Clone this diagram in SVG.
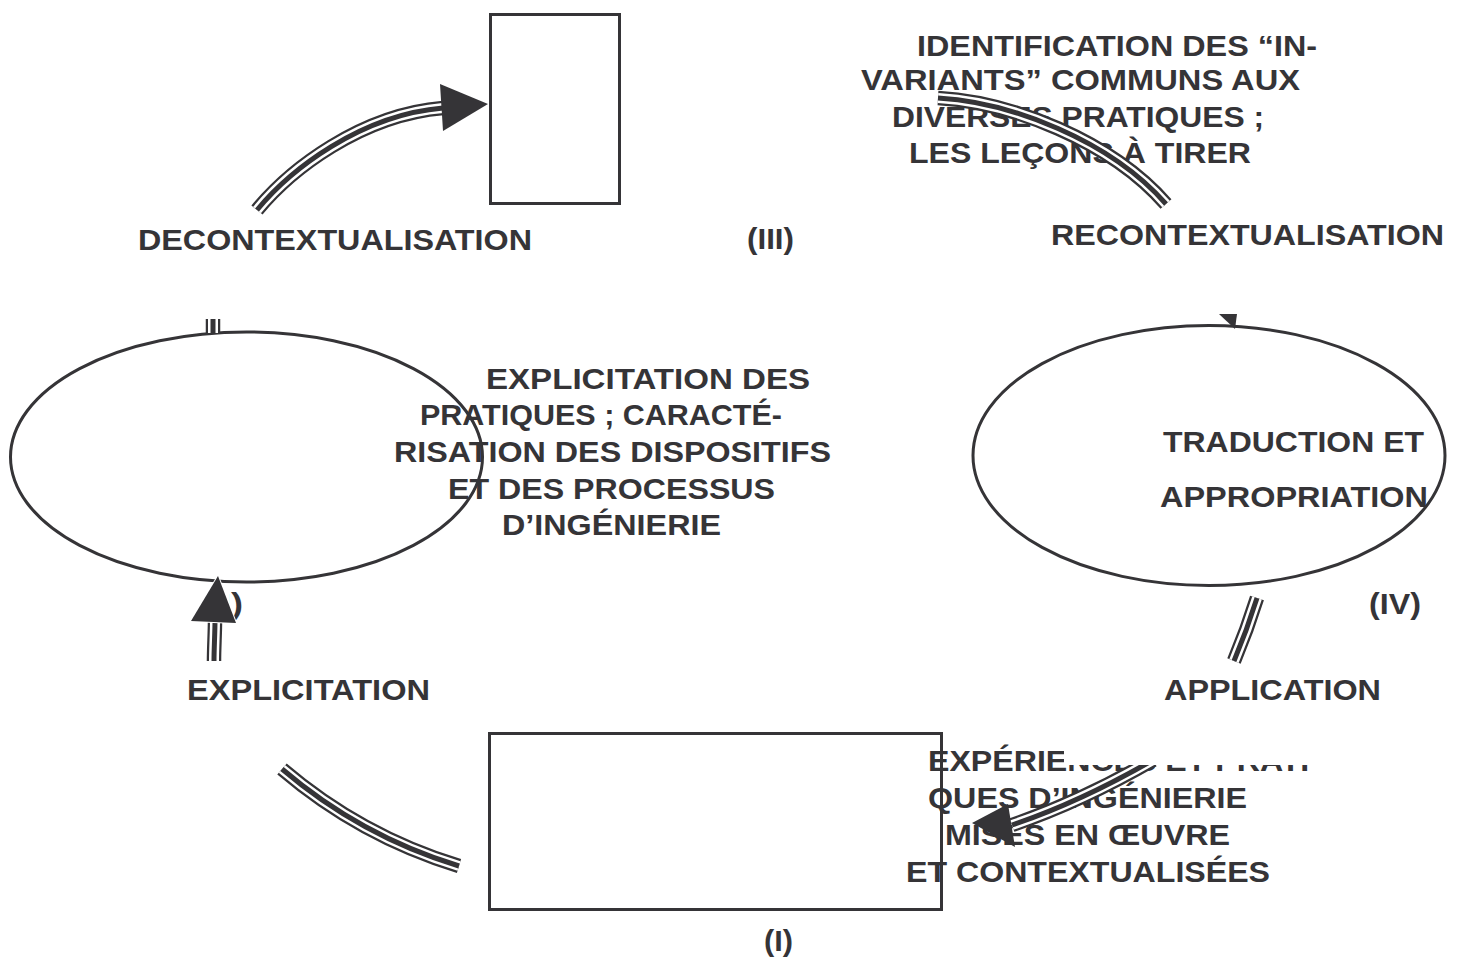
<svg xmlns="http://www.w3.org/2000/svg" xmlns:xlink="http://www.w3.org/1999/xlink" width="1463" height="958" viewBox="0 0 1463 958">
<style>
  .node { fill: #ffffff; stroke: #353437; stroke-width: 3; }
  .t { font-family: "Liberation Sans", Arial, sans-serif; font-weight: bold; font-size: 29.5px; fill: #353437; }
  .b1 { fill: none; stroke: #353437; stroke-width: 14.5; }
  .b2 { fill: none; stroke: #ffffff; stroke-width: 10; }
  .b3 { fill: none; stroke: #353437; stroke-width: 5; }
  .head { fill: #353437; }
</style>
<defs>
  <path id="pa" d="M 257 210 C 290 170 360 115 443 108"/>
  <path id="pb" d="M 938 98 C 1010 102 1110 140 1166 204"/>
  <path id="pc" d="M 213 319 L 213 333"/>
  <path id="pd" d="M 214 661 C 214 648 215 633 215 620"/>
  <path id="pe" d="M 282 769 C 330 810 390 845 459 866"/>
  <path id="pf" d="M 1257 598 Q 1247 630 1234 661"/>
  <path id="pg" d="M 1012 825 Q 1080 802 1153 760"/>
  <clipPath id="clipII"><rect x="229" y="580" width="30" height="50"/></clipPath>
</defs>

<g id="node-III-box"><rect class="node" x="490.5" y="14.5" width="129" height="189"/></g>
<g id="node-I-box"><rect class="node" x="489.5" y="733.5" width="452" height="176"/></g>
<g id="node-II-ellipse"><ellipse class="node" cx="246.5" cy="457" rx="236" ry="125"/></g>
<g id="node-IV-ellipse"><ellipse class="node" cx="1209" cy="455.5" rx="236" ry="130"/></g>

<g id="labels">
  <text class="t" x="138" y="250" textLength="394" lengthAdjust="spacingAndGlyphs">DECONTEXTUALISATION</text>
  <text class="t" x="747" y="249" textLength="47" lengthAdjust="spacingAndGlyphs">(III)</text>
  <text class="t" x="1051" y="245" textLength="393" lengthAdjust="spacingAndGlyphs">RECONTEXTUALISATION</text>
  <text class="t" x="917" y="56" textLength="400" lengthAdjust="spacingAndGlyphs">IDENTIFICATION DES “IN-</text>
  <text class="t" x="861" y="90" textLength="439" lengthAdjust="spacingAndGlyphs">VARIANTS” COMMUNS AUX</text>
  <text class="t" x="892" y="127" textLength="372" lengthAdjust="spacingAndGlyphs">DIVERSES PRATIQUES ;</text>
  <text class="t" x="909" y="163" textLength="342" lengthAdjust="spacingAndGlyphs">LES LEÇONS À TIRER</text>
  <text class="t" x="486" y="389" textLength="324" lengthAdjust="spacingAndGlyphs">EXPLICITATION DES</text>
  <text class="t" x="420" y="425" textLength="362" lengthAdjust="spacingAndGlyphs">PRATIQUES ; CARACTÉ-</text>
  <text class="t" x="394" y="462" textLength="437" lengthAdjust="spacingAndGlyphs">RISATION DES DISPOSITIFS</text>
  <text class="t" x="448" y="499" textLength="327" lengthAdjust="spacingAndGlyphs">ET DES PROCESSUS</text>
  <text class="t" x="502" y="535" textLength="219" lengthAdjust="spacingAndGlyphs">D’INGÉNIERIE</text>
  <text class="t" x="1163" y="452" textLength="261" lengthAdjust="spacingAndGlyphs">TRADUCTION ET</text>
  <text class="t" x="1160" y="507" textLength="268" lengthAdjust="spacingAndGlyphs">APPROPRIATION</text>
  <text class="t" x="1369" y="614" textLength="52" lengthAdjust="spacingAndGlyphs">(IV)</text>
  <text class="t" x="1164" y="700" textLength="217" lengthAdjust="spacingAndGlyphs">APPLICATION</text>
  <text class="t" x="187" y="700" textLength="243" lengthAdjust="spacingAndGlyphs">EXPLICITATION</text>
  <text class="t" x="928" y="771" textLength="392" lengthAdjust="spacingAndGlyphs">EXPÉRIENCES ET PRATI-</text>
  <text class="t" x="928" y="808" textLength="319" lengthAdjust="spacingAndGlyphs">QUES D’INGÉNIERIE</text>
  <text class="t" x="945" y="845" textLength="285" lengthAdjust="spacingAndGlyphs">MISES EN ŒUVRE</text>
  <text class="t" x="906" y="882" textLength="364" lengthAdjust="spacingAndGlyphs">ET CONTEXTUALISÉES</text>
  <text class="t" x="764" y="951" textLength="29" lengthAdjust="spacingAndGlyphs">(I)</text>
  <text class="t" x="199" y="614" textLength="44" lengthAdjust="spacingAndGlyphs" clip-path="url(#clipII)">(II)</text>
</g>

<g id="connectors">
  <use href="#pa" class="b1"/><use href="#pa" class="b2"/><use href="#pa" class="b3"/>
  <polygon class="head" points="488,104 440,84 443,131"/>
  <use href="#pb" class="b1"/><use href="#pb" class="b2"/><use href="#pb" class="b3"/>
  <polygon class="head" points="1219,314 1237,314 1235,329"/>
  <use href="#pc" class="b1"/><use href="#pc" class="b2"/><use href="#pc" class="b3"/>
  <use href="#pd" class="b1"/><use href="#pd" class="b2"/><use href="#pd" class="b3"/>
  <polygon class="head" points="218,576 191,621 236,623" stroke="#ffffff" stroke-width="2" paint-order="stroke"/>
  <use href="#pe" class="b1"/><use href="#pe" class="b2"/><use href="#pe" class="b3"/>
  <use href="#pf" class="b1"/><use href="#pf" class="b2"/><use href="#pf" class="b3"/>
  <use href="#pg" class="b1"/><use href="#pg" class="b2"/><use href="#pg" class="b3"/>
  <polygon class="head" points="972,823 1008,804 1015,847"/>
  <rect x="1064" y="736" width="262" height="29" fill="#ffffff"/>
</g>
</svg>
